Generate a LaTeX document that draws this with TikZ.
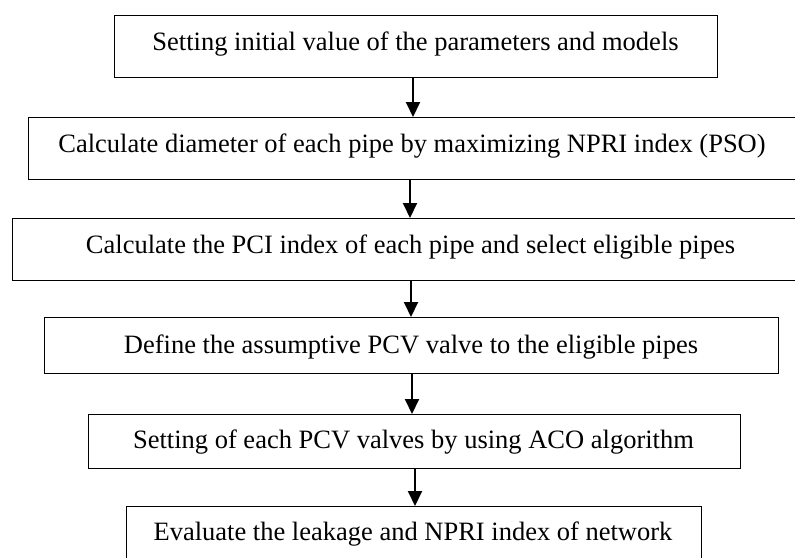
\documentclass[tikz,border=0pt]{standalone}
\usepackage{fontspec}
\setmainfont{Liberation Serif}
\usetikzlibrary{arrows.meta}
\begin{document}
\begin{tikzpicture}[x=1pt,y=-1pt,
  box/.style={draw=black,line width=1.3pt,inner sep=0pt,anchor=north west},
  lbl/.style={anchor=base,inner sep=0pt,font=\fontsize{26.5}{30}\selectfont},
  arr/.style={line width=2pt,-{Triangle[width=14pt,length=15pt]}}]
\fill[white] (0,0) rectangle (795,557);
\clip (0,0) rectangle (795,557);
\node[box,minimum width=603pt,minimum height=62pt] (b1) at (114,15) {};
\node[box,minimum width=800pt,minimum height=62pt] (b2) at (28,117) {};
\node[box,minimum width=820pt,minimum height=62pt] (b3) at (12,218) {};
\node[box,minimum width=734pt,minimum height=56pt] (b4) at (44,317) {};
\node[box,minimum width=652pt,minimum height=54pt] (b5) at (88,414) {};
\node[box,minimum width=575pt,minimum height=70pt] (b6) at (126,506) {};
\node[lbl] (t1) at (415.5,50) {Setting initial value of the parameters and models};
\node[lbl] (t2) at (412,152) {Calculate diameter of each pipe by maximizing NPRI index (PSO)};
\node[lbl] (t3) at (410.5,253) {Calculate the PCI index of each pipe and select eligible pipes};
\node[lbl] (t4) at (411,353) {Define the assumptive PCV valve to the eligible pipes};
\node[lbl] (t5) at (413.5,448) {Setting of each PCV valves by using ACO algorithm};
\node[lbl] (t6) at (413,540) {Evaluate the leakage and NPRI index of network};
\draw[arr] (b1.south -| 413,0) -- (b2.north -| 413,0);
\draw[arr] (b2.south -| 410,0) -- (b3.north -| 410,0);
\draw[arr] (b3.south -| 411,0) -- (b4.north -| 411,0);
\draw[arr] (b4.south -| 412,0) -- (b5.north -| 412,0);
\draw[arr] (b5.south -| 415,0) -- (b6.north -| 415,0);
\end{tikzpicture}
\end{document}
